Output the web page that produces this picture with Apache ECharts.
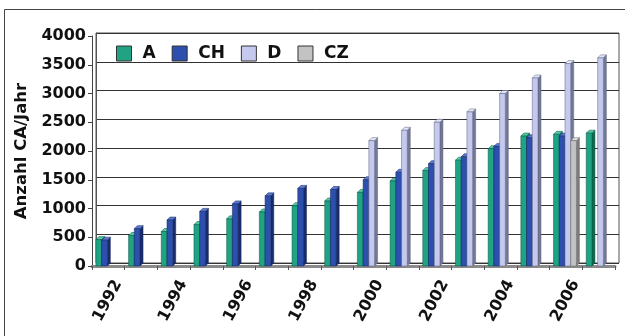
<!DOCTYPE html>
<html>
<head>
<meta charset="utf-8">
<style>
  html, body { margin: 0; padding: 0; background: #fff; }
  #chart { width: 625px; height: 336px; }
</style>
<script src="https://cdn.jsdelivr.net/npm/echarts@6/dist/echarts.min.js"></script>
</head>
<body>
<div id="chart"></div>
<script>
// Annual CA counts per country, 1992-2007
const years = ['1992','1993','1994','1995','1996','1997','1998','1999',
               '2000','2001','2002','2003','2004','2005','2006','2007'];
const seriesNames = ['A', 'CH', 'D', 'CZ'];
const valuesA  = [460, 530, 600, 720, 820, 940, 1050, 1130, 1280, 1480, 1660, 1840, 2040, 2260, 2290, 2310];
const valuesCH = [450, 650, 800, 950, 1080, 1220, 1350, 1330, 1500, 1630, 1780, 1900, 2080, 2230, 2260, null];
const valuesD  = [null, null, null, null, null, null, null, null, 2180, 2360, 2500, 2680, 3000, 3270, 3520, 3620];
const valuesCZ = [null, null, null, null, null, null, null, null, null, null, null, null, null, null, 2180, null];
const yTicks = { min: 0, max: 4000, interval: 500 };

// face colours for the pseudo-3D columns: front / side / top
const palette = [
  { front: '#1fa383', side: '#0d6b54', top: '#52c9a8', edge: '#0b5443' },
  { front: '#2d50ae', side: '#182c6b', top: '#5a7ad4', edge: '#14255a' },
  { front: '#c6c9ee', side: '#737894', top: '#e4e6f8', edge: '#5d6280' },
  { front: '#c3c3c3', side: '#7d7d7d', top: '#dedede', edge: '#666' }
];

const DEPTH_X = 3, DEPTH_Y = 3;

function column3D(name, values, slot) {
  const c = palette[slot];
  return {
    type: 'custom',
    name: name,
    xAxisIndex: 1,
    yAxisIndex: 1,
    itemStyle: { color: c.front },
    encode: { x: 0, y: 1 },
    data: values.map((v, i) => [i, v]).filter(d => d[1] != null),
    renderItem: function (params, api) {
      const idx = api.value(0);
      const val = api.value(1);
      const base = api.coord([idx, 0]);
      const head = api.coord([idx, val]);
      const catW = api.size([1, 0])[0];
      const w = catW * 0.175;
      const x0 = base[0] - 2 * w - 1 + slot * w;
      const x1 = x0 + w;
      const yb = base[1], yt = head[1];
      const zb = slot * 3;
      return {
        type: 'group',
        children: [
          {
            type: 'polygon', z2: zb,
            shape: { points: [[x1, yb], [x1 + DEPTH_X, yb - DEPTH_Y], [x1 + DEPTH_X, yt - DEPTH_Y], [x1, yt]] },
            style: { fill: c.side, stroke: c.edge, lineWidth: 0.5 }
          },
          {
            type: 'polygon', z2: zb + 1,
            shape: { points: [[x0, yt], [x0 + DEPTH_X, yt - DEPTH_Y], [x1 + DEPTH_X, yt - DEPTH_Y], [x1, yt]] },
            style: { fill: c.top, stroke: c.edge, lineWidth: 0.5 }
          },
          {
            type: 'rect', z2: zb + 2,
            shape: { x: x0, y: yt, width: w, height: yb - yt },
            style: { fill: c.front, stroke: c.edge, lineWidth: 0.5 }
          }
        ]
      };
    }
  };
}

const FONT = 'DejaVu Sans';
const chart = echarts.init(document.getElementById('chart'), null, { renderer: 'canvas' });

chart.setOption({
  animation: false,
  backgroundColor: '#fff',
  graphic: [{
    type: 'rect',
    shape: { x: 4.5, y: 9.5, width: 640, height: 340 },
    style: { fill: 'none', stroke: '#444', lineWidth: 1 },
    silent: true
  }],
  legend: {
    data: seriesNames,
    left: 111,
    top: 40,
    icon: 'rect',
    itemWidth: 15,
    itemHeight: 15,
    itemGap: 16,
    textStyle: { fontFamily: FONT, fontWeight: 'bold', fontSize: 17, color: '#111', padding: [0, 0, 0, 6] },
    itemStyle: { borderColor: '#333', borderWidth: 1 }
  },
  grid: [
    // back wall of the plot box
    { left: 96, right: 6, top: 33, bottom: 73, show: true, borderColor: '#555', borderWidth: 1, backgroundColor: 'transparent' },
    // front plane carrying the columns and the axes
    { left: 92, right: 10, top: 36, bottom: 70 }
  ],
  xAxis: [
    { type: 'category', gridIndex: 0, data: years, show: false },
    {
      type: 'category', gridIndex: 1, data: years,
      axisLine: { lineStyle: { color: '#8a8a8a', width: 3 } },
      axisTick: { show: true, interval: 0, length: 4, lineStyle: { color: '#555' } },
      axisLabel: {
        interval: 1, rotate: 62, margin: 10, verticalAlign: 'top', lineHeight: 22,
        fontFamily: FONT, fontWeight: 'bold', fontSize: 16, color: '#111'
      }
    }
  ],
  yAxis: [
    {
      type: 'value', gridIndex: 0, min: yTicks.min, max: yTicks.max, interval: yTicks.interval,
      axisLine: { show: true, lineStyle: { color: '#555' } },
      axisTick: { show: false }, axisLabel: { show: false },
      splitLine: { show: true, lineStyle: { color: '#333', width: 1.2 } }
    },
    {
      type: 'value', gridIndex: 1, min: yTicks.min, max: yTicks.max, interval: yTicks.interval,
      name: 'Anzahl CA/Jahr', nameLocation: 'middle', nameRotate: 90, nameGap: 62,
      nameTextStyle: { fontFamily: FONT, fontWeight: 'bold', fontSize: 16.5, color: '#111' },
      axisLine: { show: true, lineStyle: { color: '#444' } },
      axisTick: { show: true, length: 4, lineStyle: { color: '#444' } },
      axisLabel: {
        margin: 6, fontFamily: FONT, fontWeight: 'bold', fontSize: 16, color: '#111',
        formatter: v => String(v)
      },
      splitLine: { show: false }
    }
  ],
  series: [
    column3D('A', valuesA, 0),
    column3D('CH', valuesCH, 1),
    column3D('D', valuesD, 2),
    column3D('CZ', valuesCZ, 3)
  ]
});
</script>
</body>
</html>
